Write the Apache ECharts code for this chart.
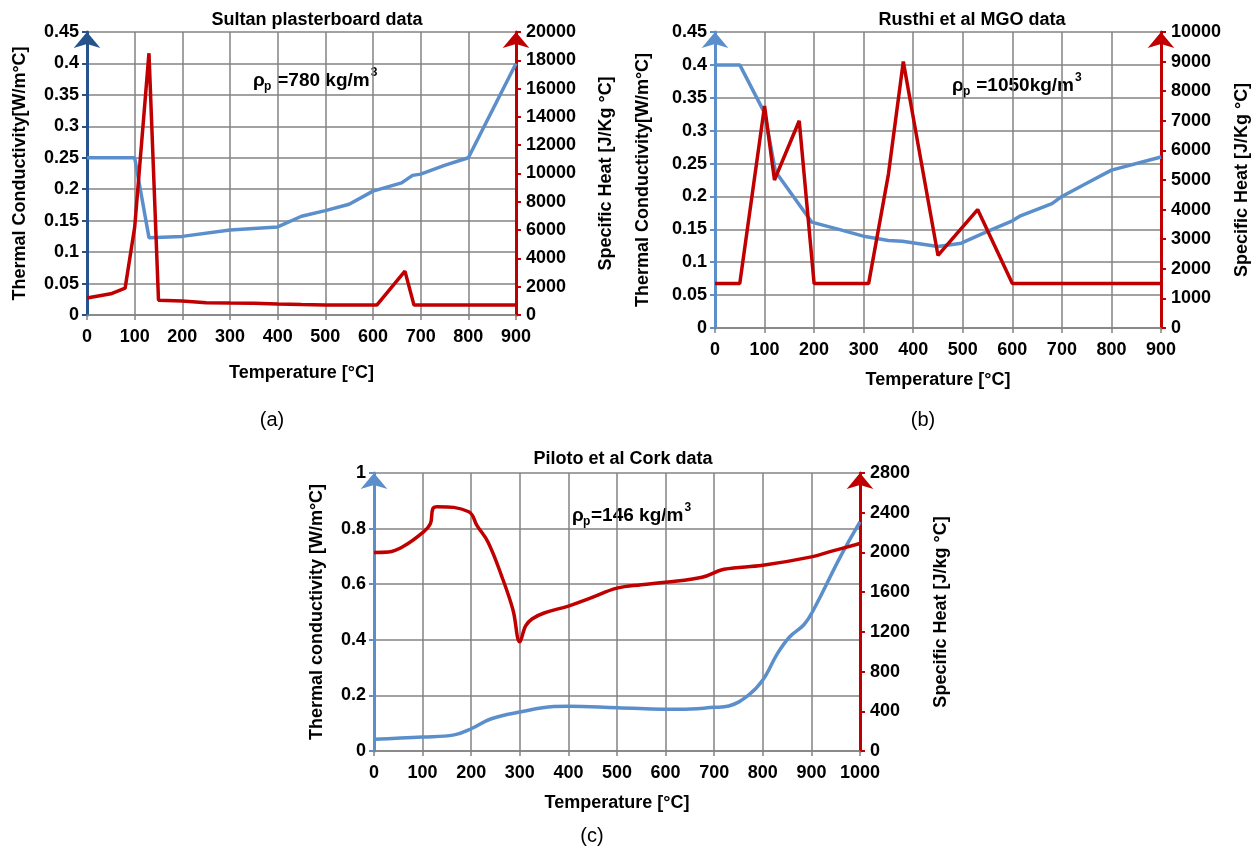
<!DOCTYPE html>
<html>
<head>
<meta charset="utf-8">
<script src="https://cdn.jsdelivr.net/npm/echarts@6/dist/echarts.min.js"></script>
<style>
html,body{margin:0;padding:0;background:#fff;}
#main{width:1256px;height:852px;}
</style>
</head>
<body>
<div id="main"></div>
<script>
// ---- Chart (a): Sultan plasterboard data ----
const aTemp_k = [0, 100, 130, 200, 300, 400, 450, 500, 550, 600, 660, 683, 700, 750, 800, 900];
const aK      = [0.25, 0.25, 0.123, 0.125, 0.135, 0.14, 0.157, 0.166, 0.176, 0.197, 0.21, 0.222, 0.224, 0.238, 0.25, 0.40];
const aTemp_c = [0, 50, 80, 100, 130, 150, 200, 250, 300, 350, 400, 450, 500, 550, 608, 667, 686, 900];
const aCp     = [1200, 1500, 1900, 6200, 18500, 1050, 990, 870, 840, 830, 780, 740, 710, 700, 700, 3100, 700, 700];

// ---- Chart (b): Rusthi et al MGO data ----
const bTemp_k = [0, 50, 100, 122, 195, 250, 303, 350, 378, 450, 497, 550, 600, 615, 680, 700, 750, 800, 900];
const bK      = [0.40, 0.40, 0.327, 0.238, 0.161, 0.150, 0.139, 0.133, 0.132, 0.124, 0.129, 0.147, 0.163, 0.170, 0.189, 0.200, 0.220, 0.240, 0.260];
const bTemp_c = [0, 50, 100, 120, 170, 200, 310, 350, 380, 397, 450, 530, 600, 900];
const bCp     = [1500, 1500, 7500, 5000, 7000, 1500, 1500, 5200, 9000, 7400, 2450, 4000, 1500, 1500];

// ---- Chart (c): Piloto et al Cork data ----
const cTemp_k = [0, 100, 165, 200, 240, 300, 370, 400, 500, 630, 700, 730, 770, 800, 830, 855, 885, 905, 960, 1000];
const cK      = [0.042, 0.05, 0.058, 0.08, 0.115, 0.14, 0.16, 0.161, 0.156, 0.15, 0.157, 0.162, 0.2, 0.255, 0.35, 0.41, 0.455, 0.51, 0.70, 0.824];
const cTemp_c = [0, 30, 60, 100, 116, 121, 130, 195, 212, 235, 265, 286, 300, 312, 325, 350, 400, 445, 500, 550, 600, 675, 720, 800, 900, 940, 1000];
const cCp     = [2000, 2005, 2060, 2200, 2290, 2440, 2460, 2410, 2270, 2100, 1730, 1420, 1100, 1260, 1330, 1390, 1460, 1540, 1640, 1675, 1700, 1750, 1830, 1870, 1955, 2010, 2090];

const titles = ['Sultan plasterboard data', 'Rusthi et al MGO data', 'Piloto et al Cork data'];
const xName = 'Temperature [°C]';
const kNames = ['Thermal Conductivity[W/m°C]', 'Thermal Conductivity[W/m°C]', 'Thermal conductivity [W/m°C]'];
const cpNames = ['Specific Heat [J/Kg °C]', 'Specific Heat [J/Kg °C]', 'Specific Heat [J/kg °C]'];
const densityVals = ['780 kg/m', '1050kg/m', '146 kg/m'];
const panelLabels = ['(a)', '(b)', '(c)'];

const FONT = 'Liberation Sans, Arial, sans-serif';
const GRIDC = '#838383';
const BLUE = '#5B8FCB';
const NAVY = '#27538C';
const RED = '#C00000';

function pairs(xs, ys){ return xs.map((x,i)=>[x, ys[i]]); }
const plain = v => String(v);

const grids = [
  {left: 87, top: 32, width: 429, height: 283},
  {left: 715, top: 32, width: 446, height: 296},
  {left: 374, top: 473, width: 486, height: 278}
];

const xMax = [900, 900, 1000];
const kAx = [{max:0.45, interval:0.05}, {max:0.45, interval:0.05}, {max:1, interval:0.2}];
const cpAx = [{max:20000, interval:2000}, {max:10000, interval:1000}, {max:2800, interval:400}];
const leftColors = [NAVY, BLUE, BLUE];
const xNameGap = [49, 43, 43];
const leftGap = [58, 63, 48];
const rightGap = [81, 72, 72];

const labelStyle = {color:'#000', fontFamily: FONT, fontWeight:'bold', fontSize:18};
const nameStyle = {color:'#000', fontFamily: FONT, fontWeight:'bold', fontSize:18};

const xAxis = grids.map((g,i)=>({
  type:'value', gridIndex:i, min:0, max:xMax[i], interval:100,
  axisLine:{show:true, onZero:false, lineStyle:{color:GRIDC, width:1.5}},
  axisTick:{show:true, length:5, lineStyle:{color:GRIDC, width:1.5}},
  axisLabel:{...labelStyle, margin:13, formatter:plain},
  splitLine:{show:true, lineStyle:{color:GRIDC, width:1.5}},
  name:xName, nameLocation:'middle', nameGap:xNameGap[i], nameTextStyle:nameStyle
}));

const yAxis = [];
grids.forEach((g,i)=>{
  yAxis.push({
    type:'value', gridIndex:i, position:'left', min:0, max:kAx[i].max, interval:kAx[i].interval,
    axisLine:{show:true, onZero:false, symbol:['none','arrow'], symbolSize:[20,16], lineStyle:{color:leftColors[i], width:3}},
    axisTick:{show:true, length:5, lineStyle:{color:leftColors[i], width:2}},
    axisLabel:{...labelStyle, margin:8, formatter:plain},
    splitLine:{show:true, lineStyle:{color:GRIDC, width:1.5}},
    name:kNames[i], nameLocation:'middle', nameRotate:90, nameGap:leftGap[i], nameTextStyle:nameStyle
  });
  yAxis.push({
    type:'value', gridIndex:i, position:'right', min:0, max:cpAx[i].max, interval:cpAx[i].interval,
    axisLine:{show:true, onZero:false, symbol:['none','arrow'], symbolSize:[20,16], lineStyle:{color:RED, width:3}},
    axisTick:{show:true, length:5, lineStyle:{color:RED, width:2}},
    axisLabel:{...labelStyle, margin:10, formatter:plain},
    splitLine:{show:false},
    name:cpNames[i], nameLocation:'middle', nameRotate:90, nameGap:rightGap[i], nameTextStyle:nameStyle
  });
});

const series = [
  {type:'line', xAxisIndex:0, yAxisIndex:0, data:pairs(aTemp_k,aK), color:BLUE, lineStyle:{width:3.5}, showSymbol:false, z:3},
  {type:'line', xAxisIndex:0, yAxisIndex:1, data:pairs(aTemp_c,aCp), color:RED, lineStyle:{width:3.5}, showSymbol:false, z:4},
  {type:'line', xAxisIndex:1, yAxisIndex:2, data:pairs(bTemp_k,bK), color:BLUE, lineStyle:{width:3.5}, showSymbol:false, z:3},
  {type:'line', xAxisIndex:1, yAxisIndex:3, data:pairs(bTemp_c,bCp), color:RED, lineStyle:{width:3.5}, showSymbol:false, z:4},
  {type:'line', xAxisIndex:2, yAxisIndex:4, data:pairs(cTemp_k,cK), color:BLUE, lineStyle:{width:3.5}, showSymbol:false, smooth:0.4, z:3},
  {type:'line', xAxisIndex:2, yAxisIndex:5, data:pairs(cTemp_c,cCp), color:RED, lineStyle:{width:3.5}, showSymbol:false, smooth:0.4, z:4}
];

const titleCenters = [[312, 6], [967, 6], [618, 445]];
const title = titles.map((t,i)=>({
  text:t, left:titleCenters[i][0], top:titleCenters[i][1], textAlign:'center',
  textStyle:{color:'#000', fontFamily:FONT, fontWeight:'bold', fontSize:18}
}));

// density annotations (rho_p = ... kg/m^3)
const annoPos = [[253, 82], [952, 87], [572, 517]];
const FS = 19;
const graphic = [];
const eqTexts = densityVals.map((d,i)=>(i===2 ? '=' : ' =') + d);
annoPos.forEach((p,i)=>{
  const f = {fontFamily:FONT, fontWeight:'bold', fill:'#000'};
  graphic.push({type:'text', left:p[0], top:p[1]-11, style:{...f, text:'ρ', fontSize:19}});
  graphic.push({type:'text', left:p[0]+11, top:p[1]-1, style:{...f, text:'p', fontSize:12}});
  const x0 = p[0] + 19;
  graphic.push({type:'text', left:x0, top:p[1]-11, style:{...f, text:eqTexts[i], fontSize:FS}});
  const w = echarts.format.getTextRect ? echarts.format.getTextRect(eqTexts[i], 'bold ' + FS + 'px ' + FONT).width : eqTexts[i].length*10;
  graphic.push({type:'text', left:x0 + w + 1, top:p[1]-15, style:{...f, text:'3', fontSize:12}});
});
const panelPos = [[272, 420], [923, 420], [592, 836]];
panelPos.forEach((p,i)=>{
  graphic.push({type:'text', x:p[0], y:p[1], style:{text:panelLabels[i], fontFamily:FONT, fontSize:20, fill:'#000', align:'center', verticalAlign:'middle'}});
});

const chart = echarts.init(document.getElementById('main'), null, {renderer:'canvas'});
chart.setOption({
  animation:false,
  backgroundColor:'#fff',
  title, grid:grids, xAxis, yAxis, series, graphic
});
</script>
</body>
</html>
